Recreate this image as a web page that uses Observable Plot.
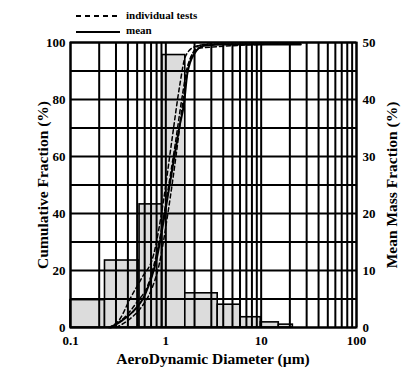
<!DOCTYPE html>
<html><head><meta charset="utf-8">
<script src="https://cdn.jsdelivr.net/npm/d3@7"></script>
<script src="https://cdn.jsdelivr.net/npm/@observablehq/plot@0.6"></script>
<style>
body{margin:0;background:#fff;}
#wrap{position:relative;width:401px;height:371px;overflow:hidden;font-family:"Liberation Serif","Times New Roman",serif;font-weight:bold;}
#legend{position:absolute;left:0;top:0;}
</style></head>
<body><div id="wrap"></div>
<script>
// Histogram bins (aerodynamic diameter, µm) and mean mass fraction (%)
const binEdges = [0.1, 0.23, 0.53, 0.92, 1.6, 3.5, 6.1, 9.9, 15.3, 21.5];
const massFrac = [4.8, 11.75, 21.6, 47.8, 6.0, 4.0, 1.8, 0.9, 0.5];

// Mean cumulative curve
const meanD   = [0.26, 0.35, 0.44, 0.61, 0.80, 1.00, 1.21, 1.40, 1.55, 1.68, 1.98, 2.5, 4.4, 26];
const meanCum = [0,    2.5,  5.2,  11.8, 24.0, 42.0, 58.6, 71.0, 78.5, 89.0, 96.0, 98.9, 99.3, 99.3];

// Individual tests
const test1D   = [0.25, 0.33, 0.42, 0.55, 0.75, 0.95, 1.15, 1.40, 1.60, 2.0, 3.0, 26];
const test1Cum = [0,    3,    10,   17,   26,   45,   65,   85,   95,   98.5, 99.5, 99.5];
const test2D   = [0.30, 0.42, 0.55, 0.70, 0.85, 1.05, 1.30, 1.55, 1.80, 2.3, 4.0, 26];
const test2Cum = [0,    3,    7,    13,   22,   40,   62,   82,   94,   99,  99.5, 99.5];
const test3D   = [0.27, 0.38, 0.50, 0.65, 0.85, 1.05, 1.25, 1.50, 1.70, 2.2, 26];
const test3Cum = [0,    4,    9,    15,   30,   48,   64,   82,   92,   98,  99.7];

// Axis ticks / grid
const xGrid = [0.1,0.2,0.3,0.4,0.5,0.6,0.7,0.8,0.9,1,2,3,4,5,6,7,8,9,10,20,30,40,50,60,70,80,90,100];
const xTicks = [0.1, 1, 10, 100];
const yGrid = [0,10,20,30,40,50,60,70,80,90,100];
const yTicksLeft = [0,20,40,60,80,100];
const yTicksRight = [0,10,20,30,40,50];

const bins = massFrac.map((v,i)=>({x1:binEdges[i], x2:binEdges[i+1], frac:v}));
const meanData = meanD.map((d,i)=>({d, c:meanCum[i]}));
const tests = [[test1D,test1Cum],[test2D,test2Cum],[test3D,test3Cum]]
  .flatMap(([D,C],k)=>D.map((d,i)=>({d, c:C[i], test:k})));

const chart = Plot.plot({
  width: 401, height: 371,
  marginLeft: 70, marginRight: 45, marginTop: 42, marginBottom: 44,
  style: {fontFamily: '"Liberation Serif","Times New Roman",serif', fontWeight: "bold", fontSize: "13px", color: "#000", background: "#fff"},
  x: {type: "log", domain: [0.1, 100]},
  y: {domain: [0, 100]},
  marks: [
    Plot.rectY(bins, {x1:"x1", x2:"x2", y1:0, y2: d=>d.frac*2, fill:"#dcdcdc", stroke:"#000", strokeWidth:1.6}),
    Plot.ruleX(xGrid, {stroke:"#000", strokeWidth:2}),
    Plot.ruleY(yGrid, {stroke:"#000", strokeWidth:2}),
    Plot.line(tests, {x:"d", y:"c", z:"test", stroke:"#000", strokeWidth:1.5, strokeDasharray:"4,3", curve:"monotone-x"}),
    Plot.line(meanData, {x:"d", y:"c", stroke:"#000", strokeWidth:2, curve:"monotone-x"}),
    Plot.frame({stroke:"#000", strokeWidth:2}),
    Plot.axisX({ticks: xTicks, tickFormat: d=>String(d), tickSize:0, tickPadding:8, label:null}),
    Plot.axisY({anchor:"left", ticks: yTicksLeft, tickSize:0, tickPadding:5, label:null}),
    Plot.axisY({anchor:"right", ticks: yTicksRight.map(v=>v*2), tickFormat: d=>String(d/2), tickSize:0, tickPadding:6, label:null})
  ]
});
const wrap = document.getElementById("wrap");
wrap.appendChild(chart);

// axis titles as real text within the plot svg
const svg = d3.select(chart);
svg.append("text").attr("transform","translate(44,185) rotate(-90)").attr("text-anchor","middle")
  .attr("dominant-baseline","middle").style("font-size","15.5px").style("font-weight","bold").text("Cumulative Fraction (%)");
svg.append("text").attr("transform","translate(393,185) rotate(-90)").attr("text-anchor","middle")
  .attr("dominant-baseline","middle").style("font-size","15.5px").style("font-weight","bold").text("Mean Mass Fraction (%)");
svg.append("text").attr("x",213).attr("y",360).attr("text-anchor","middle")
  .attr("dominant-baseline","middle").style("font-size","15.5px").style("font-weight","bold").text("AeroDynamic Diameter (µm)");

// Legend
const leg = d3.select(wrap).append("svg").attr("id","legend").attr("width",401).attr("height",42);
leg.append("line").attr("x1",76).attr("x2",118).attr("y1",16).attr("y2",16).attr("stroke","#000").attr("stroke-width",1.8).attr("stroke-dasharray","5,4");
leg.append("line").attr("x1",76).attr("x2",120).attr("y1",32).attr("y2",32).attr("stroke","#000").attr("stroke-width",1.8);
leg.append("text").attr("x",126).attr("y",16).attr("dominant-baseline","middle").style("font-size","11px").style("font-weight","bold").style("font-family",'"Liberation Serif",serif').text("individual tests");
leg.append("text").attr("x",126).attr("y",31).attr("dominant-baseline","middle").style("font-size","11px").style("font-weight","bold").style("font-family",'"Liberation Serif",serif').text("mean");
</script></body></html>
